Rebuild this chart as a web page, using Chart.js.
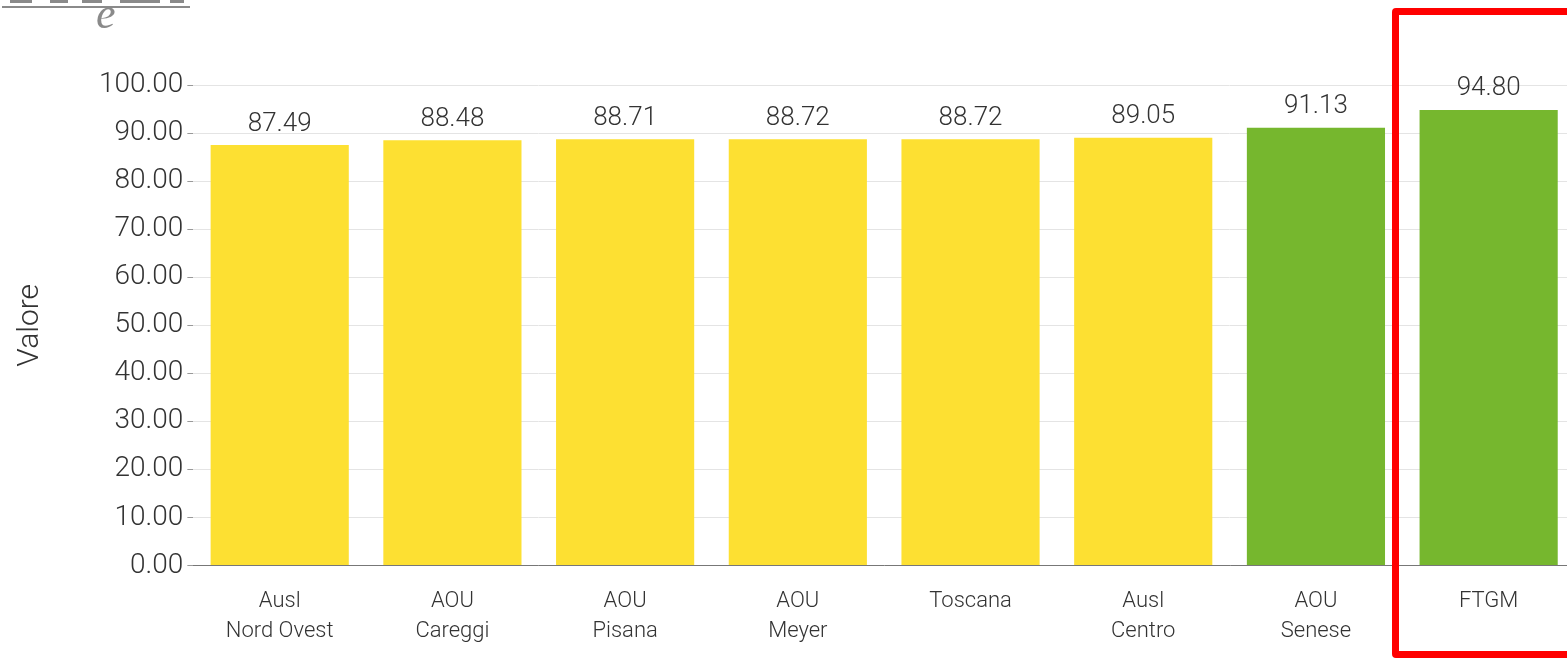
<!DOCTYPE html>
<html>
<head>
<meta charset="utf-8">
<script src="https://cdn.jsdelivr.net/npm/chart.js@4"></script>
<style>
  html, body { margin: 0; padding: 0; background: #fff; overflow: hidden; }
  #wrap { position: relative; width: 1575px; height: 659px; }
  #logo { position: absolute; left: 2px; top: 0; width: 188px; height: 6px; border-bottom: 2px solid #8a8a8a; }
  #logo span { position: absolute; top: -2px; height: 5px; background: #8a8a8a; }
  #logoE { position: absolute; left: 96px; top: -12px; font: italic 44px "Liberation Serif", serif; color: #8a8a8a; }
  #box { position: absolute; left: 1392px; top: 8px; width: 200px; height: 636px; border: 7px solid #ff0000; border-radius: 4px; }
</style>
</head>
<body>
<div id="wrap">
  <canvas id="myChart" width="1575" height="659"></canvas>
  <div id="logo">
    <span style="left:8px;width:22px"></span>
    <span style="left:48px;width:18px"></span>
    <span style="left:80px;width:20px"></span>
    <span style="left:118px;width:40px"></span>
    <span style="left:168px;width:14px"></span>
  </div>
  <div id="logoE">e</div>
  <div id="box"></div>
</div>
<script>
const aziende = [
  ['Ausl', 'Nord Ovest'],
  ['AOU', 'Careggi'],
  ['AOU', 'Pisana'],
  ['AOU', 'Meyer'],
  'Toscana',
  ['Ausl', 'Centro'],
  ['AOU', 'Senese'],
  'FTGM'
];
const valori = [87.49, 88.48, 88.71, 88.72, 88.72, 89.05, 91.13, 94.80];
const colori = ['#fde032', '#fde032', '#fde032', '#fde032', '#fde032', '#fde032', '#76b72e', '#76b72e'];

const valueLabels = {
  id: 'valueLabels',
  afterDatasetsDraw(chart) {
    const ctx = chart.ctx;
    const meta = chart.getDatasetMeta(0);
    ctx.save();
    ctx.font = '300 26px Roboto';
    ctx.fillStyle = '#333';
    ctx.textAlign = 'center';
    ctx.textBaseline = 'bottom';
    meta.data.forEach((bar, i) => {
      ctx.fillText(valori[i].toFixed(2), bar.x, bar.y - 8);
    });
    ctx.restore();
  }
};

new Chart(document.getElementById('myChart'), {
  type: 'bar',
  data: {
    labels: aziende,
    datasets: [{
      label: 'Valore',
      data: valori,
      backgroundColor: colori,
      categoryPercentage: 0.8,
      barPercentage: 1
    }]
  },
  options: {
    responsive: false,
    animation: false,
    layout: { padding: { top: 85, left: 8, right: 0, bottom: 0 } },
    plugins: { legend: { display: false }, tooltip: { enabled: false } },
    scales: {
      x: {
        grid: { display: false },
        border: { color: '#777', width: 1 },
        ticks: { color: '#333', font: { family: 'Roboto', size: 22, weight: 300, lineHeight: 1.35 }, maxRotation: 0, padding: 13 }
      },
      y: {
        min: 0,
        max: 100,
        ticks: {
          stepSize: 10,
          color: '#333',
          font: { family: 'Roboto', size: 28, weight: 300 },
          padding: 4,
          callback: (v) => v.toFixed(2)
        },
        grid: { color: '#e4e4e4', tickLength: 6, tickColor: '#999' },
        border: { display: false },
        title: { display: true, text: 'Valore', color: '#333', font: { family: 'Roboto', size: 30, weight: 300 }, padding: { bottom: 47 } }
      }
    }
  },
  plugins: [valueLabels]
});
</script>
</body>
</html>
